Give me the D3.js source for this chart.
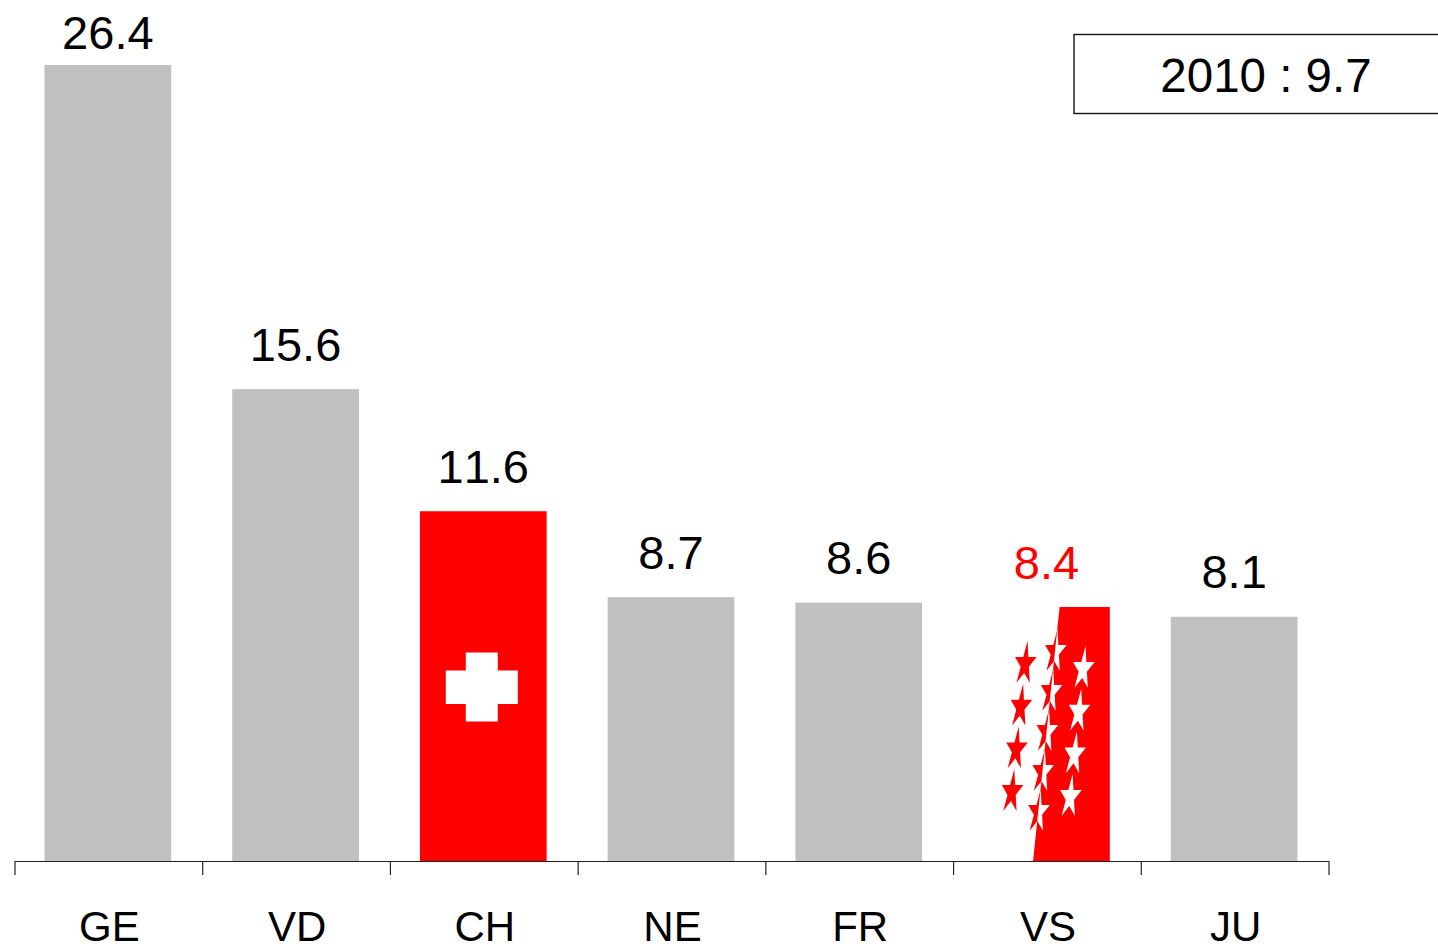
<!DOCTYPE html>
<html lang="en">
<head>
<meta charset="utf-8">
<title>Cantons</title>
<style>
    html, body { margin: 0; padding: 0; background: #fff; overflow: hidden; }
    svg { display: block; }
    text { font-family: "Liberation Sans", Arial, sans-serif; font-kerning: none; }
</style>
<script src="https://d3js.org/d3.v7.min.js"></script>
</head>
<body>
<div id="chart"></div>
<script>
    // data
    var cantons = ["GE", "VD", "CH", "NE", "FR", "VS", "JU"]
    var values = [26.4, 15.65, 11.6, 8.75, 8.57, 8.42, 8.1]
    var valueLabels = ["26.4", "15.6", "11.6", "8.7", "8.6", "8.4", "8.1"]
    var refYear = "2010"
    var refValue = "9.7"

    var width = 1438
    var height = 944
    var baseline = 861

    var svg = d3.select("#chart").append("svg")
        .attr("width", width)
        .attr("height", height)

    // soft edge on the stars, they come from a scaled bitmap in the original
    svg.append("filter").attr("id", "soft")
        .append("feGaussianBlur").attr("stdDeviation", 0.5)

    // one slot per canton, the ticks sit on the slot edges
    var x = d3.scaleBand().domain(cantons).range([15.5, 1329.5])
    var xBar = d3.scaleBand().domain(cantons).range([14, 1328])
        .paddingInner(0.325).paddingOuter(0.1625)
    var xEdge = d3.scaleLinear().domain([0, cantons.length]).range([14.5, 1328.5])
    var y = d3.scaleLinear().domain([0, 26.4]).range([baseline, 65])

    var rows = cantons.map(function(c, i) { return {canton: c, value: values[i], label: valueLabels[i]} })

    // plain bars, CH and VS get their flags below
    svg.selectAll("rect.bar")
        .data(rows.filter(function(d) { return d.canton != "VS" }))
        .enter().append("rect")
        .attr("class", "bar")
        .attr("x", function(d) { return xBar(d.canton) })
        .attr("y", function(d) { return y(d.value) })
        .attr("width", xBar.bandwidth())
        .attr("height", function(d) { return baseline - y(d.value) })
        .attr("fill", function(d) { return d.canton == "CH" ? "#ff0000" : "#c0c0c0" })

    // swiss cross, measured from the middle of the CH bar
    var chX = xBar("CH") + xBar.bandwidth() / 2
    var cross = svg.append("g").attr("fill", "#fff")
    cross.append("rect").attr("x", chX - 37.5).attr("y", 670.5).attr("width", 72).attr("height", 33.5)
    cross.append("rect").attr("x", chX - 17.5).attr("y", 652.5).attr("width", 32).attr("height", 69)

    // valais flag: red part is slanted, stars swap colour across the edge
    var vsLeft = xBar("VS")
    var vsRight = vsLeft + xBar.bandwidth()
    var vsTop = y(values[5])
    var redPart = [[vsLeft + 76.5, vsTop], [vsRight, vsTop], [vsRight, baseline], [vsLeft + 50, baseline]]

    svg.append("clipPath").attr("id", "vs-red")
        .append("polygon").attr("points", redPart.join(" "))

    svg.append("polygon").attr("points", redPart.join(" ")).attr("fill", "#ff0000")

    // start of each star column relative to the bar, and the step down it
    var starCols = [
        {dx: 42, dy: 57, n: 4, sx: -4.4, sy: 42.7},
        {dx: 72, dy: 45, n: 5, sx: -4.2, sy: 40},
        {dx: 100, dy: 62, n: 4, sx: -4.3, sy: 42.7}
    ]
    var stars = []
    starCols.forEach(function(c) {
        d3.range(c.n).forEach(function(k) {
            stars.push([vsLeft + c.dx + k * c.sx, vsTop + c.dy + k * c.sy])
        })
    })
    var starPath = d3.symbol().type(d3.symbolStar).size(100)()

    function drawStars(g, colour) {
        g.attr("filter", "url(#soft)")
            .selectAll("path").data(stars).enter().append("path")
            .attr("d", starPath)
            .attr("fill", colour)
            .attr("transform", function(d) {
                return "translate(" + d[0] + "," + d[1] + ") skewX(-6) scale(1.2,2.45)"
            })
    }
    drawStars(svg.append("g"), "#ff0000")
    drawStars(svg.append("g").attr("clip-path", "url(#vs-red)").append("g"), "#fff")

    // value labels, GE is pushed down so that it stays on the page
    svg.selectAll("text.value")
        .data(rows)
        .enter().append("text")
        .attr("class", "value")
        .attr("x", function(d) { return xBar(d.canton) + xBar.bandwidth() / 2 })
        .attr("y", function(d) { return Math.max(y(d.value) - 28.5, 49) })
        .attr("text-anchor", "middle")
        .attr("font-size", 47)
        .attr("fill", function(d) { return d.canton == "VS" ? "#ff0000" : "#000" })
        .text(function(d) { return d.label })

    // axis with ticks on the slot edges
    var axis = svg.append("g")
        .attr("transform", "translate(0," + baseline + ")")
        .call(d3.axisBottom(xEdge).ticks(cantons.length).tickSize(14).tickSizeOuter(0).tickFormat(""))
    axis.selectAll("line").attr("stroke", "#222").attr("stroke-width", 1.2)
    axis.select(".domain").attr("stroke", "#222").attr("stroke-width", 1.2)

    svg.selectAll("text.canton")
        .data(cantons)
        .enter().append("text")
        .attr("class", "canton")
        .attr("x", function(d) { return x(d) + x.bandwidth() / 2 })
        .attr("y", 941)
        .attr("text-anchor", "middle")
        .attr("font-size", 42)
        .text(function(d) { return d })

    // reference box, runs off the right side
    svg.append("rect")
        .attr("x", 1074).attr("y", 34.5)
        .attr("width", 400).attr("height", 79)
        .attr("fill", "none").attr("stroke", "#111").attr("stroke-width", 1.4)
    svg.append("text")
        .attr("x", 1266).attr("y", 92)
        .attr("text-anchor", "middle")
        .attr("font-size", 47.5)
        .text(refYear + " : " + refValue)
</script>
</body>
</html>
